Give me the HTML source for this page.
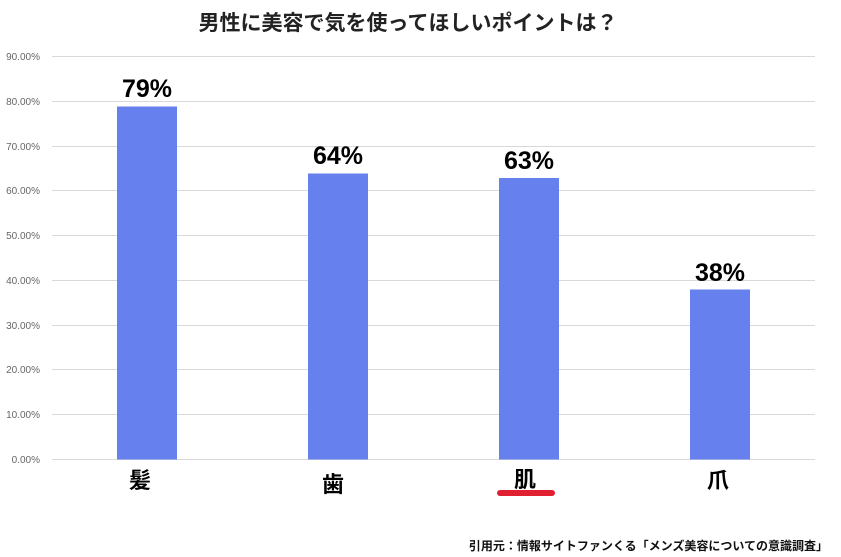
<!DOCTYPE html>
<html><head><meta charset="utf-8"><style>
body{margin:0;background:#fff;width:841px;height:557px;overflow:hidden;font-family:"Liberation Sans","Noto Sans CJK JP",sans-serif}
</style></head><body>
<svg width="841" height="557" xmlns="http://www.w3.org/2000/svg" style="position:absolute;left:0;top:0">
<text x="408" y="30" text-anchor="middle" font-size="21" font-weight="bold" fill="#222" font-family="Liberation Sans,Noto Sans CJK JP,sans-serif">男性に美容で気を使ってほしいポイントは？</text>
<g stroke="#d9d9d9" stroke-width="1">
<line x1="52" x2="815" y1="56.5" y2="56.5"/>
<line x1="52" x2="815" y1="101.5" y2="101.5"/>
<line x1="52" x2="815" y1="146.5" y2="146.5"/>
<line x1="52" x2="815" y1="190.5" y2="190.5"/>
<line x1="52" x2="815" y1="235.5" y2="235.5"/>
<line x1="52" x2="815" y1="280.5" y2="280.5"/>
<line x1="52" x2="815" y1="325.5" y2="325.5"/>
<line x1="52" x2="815" y1="369.5" y2="369.5"/>
<line x1="52" x2="815" y1="414.5" y2="414.5"/>
<line x1="52" x2="815" y1="459.5" y2="459.5"/>
</g>
<g font-size="10" fill="#666" text-anchor="end" font-family="Liberation Sans,sans-serif">
<text x="40" y="60">90.00%</text><text x="40" y="105">80.00%</text><text x="40" y="150">70.00%</text>
<text x="40" y="194">60.00%</text><text x="40" y="239">50.00%</text><text x="40" y="284">40.00%</text>
<text x="40" y="329">30.00%</text><text x="40" y="373">20.00%</text><text x="40" y="418">10.00%</text>
<text x="40" y="463">0.00%</text>
</g>
<g fill="#6680ee">
<rect x="117" y="106.5" width="60" height="353"/>
<rect x="308" y="173.5" width="60" height="286"/>
<rect x="499" y="178" width="60" height="281.5"/>
<rect x="690" y="289.5" width="60" height="170"/>
</g>
<g font-size="25" font-weight="bold" fill="#000" text-anchor="middle" font-family="Liberation Sans,sans-serif">
<text x="147" y="97">79%</text><text x="338" y="164">64%</text><text x="529" y="169">63%</text><text x="720" y="281">38%</text>
</g>
<g font-size="22" font-weight="bold" fill="#000" text-anchor="middle" font-family="Noto Sans CJK JP,sans-serif">
<text x="140" y="488">髪</text><text x="333" y="492">歯</text><text x="525" y="487">肌</text><text x="718" y="488">爪</text>
</g>
<line x1="500" x2="552" y1="493" y2="493" stroke="#e02030" stroke-width="6" stroke-linecap="round"/>
<text x="828" y="550" text-anchor="end" font-size="12" font-weight="bold" fill="#111" font-family="Liberation Sans,Noto Sans CJK JP,sans-serif">引用元：情報サイトファンくる「メンズ美容についての意識調査」</text>
</svg>
</body></html>
